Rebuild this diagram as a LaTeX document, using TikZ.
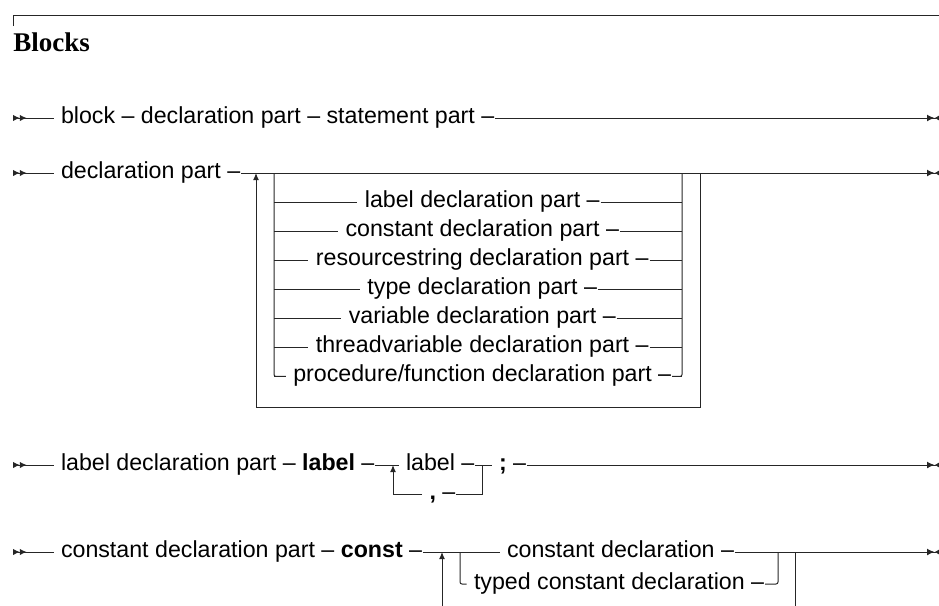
\documentclass[tikz,border=0pt]{standalone}
\usepackage{fontspec}
\setmainfont{Liberation Serif}
\setsansfont{Liberation Sans}
\usetikzlibrary{positioning,arrows.meta}

\begin{document}
\begin{tikzpicture}[
                x=0.5pt, y=-0.5pt,
                rail/.style={line width=0.5pt, draw=black!85},
                railstart/.style={rail, {Latex[reversed,length=3.4pt,width=3.2pt]Latex[reversed,length=3.4pt,width=3.2pt]}-},
                railend/.style={rail, -{Latex[length=3.8pt,width=3.4pt]Latex[reversed,length=2.2pt,width=2.6pt]}},
                railup/.style={rail, -{Latex[length=3.6pt,width=3pt]}},
                railtext/.style={font=\sffamily\fontsize{11.6}{14}\selectfont, anchor=west, inner xsep=0.3pt, inner ysep=0pt, text height=8.5pt, text depth=3.5pt, execute at begin node={\hspace{3.25pt}}},
                heading/.style={font=\rmfamily\bfseries\fontsize{13.5}{16}\selectfont, anchor=base west, inner sep=0pt}
                ]
                \useasboundingbox (0,0) rectangle (939,606);

                % title rule and heading
                \coordinate (ruleL) at (13,26);
                \coordinate (ruleR) at (939,15);
                \draw[rail] (ruleL) |- (ruleR);
                \node[heading] (head) at (13,51) {Blocks};

                % block
                \coordinate (s1) at (13,118);
                \coordinate (e1) at (939,118);
                \node[railtext] (blk) at (53.5,118) {block – declaration part – statement part –};
                \draw[railstart] (s1) -- (blk.west);
                \draw[railend] (blk.east) -- (e1);

                % declaration part
                \coordinate (s2) at (13,173);
                \coordinate (e2) at (939,173);
                \coordinate (back2) at (256,173);
                \coordinate (split2) at (274,173);
                \coordinate (join2) at (682,173);
                \coordinate (out2) at (700,173);
                \coordinate (bot2) at (256,407);
                \node[railtext] (decl) at (53.5,173) {declaration part –};
                \draw[railstart] (s2) -- (decl.west);
                \draw[railend] (decl.east) -- (e2);
                \foreach \txt [count=\i] in {label declaration part, constant declaration part, resourcestring declaration part, type declaration part, variable declaration part, threadvariable declaration part, procedure/function declaration part} {
                    \pgfmathsetmacro{\yy}{173+29.07*\i}
                    \node[railtext, anchor=center] (alt\i) at (479,\yy) {\txt\ –};
                    \draw[rail] (alt\i.west -| split2) -- (alt\i.west);
                    \draw[rail] (alt\i.east) -- (alt\i.east -| join2);
                }
                \draw[rail, rounded corners=1pt] (split2) |- (alt7.west);
                \draw[rail, rounded corners=1pt] (join2) |- (alt7.east);
                \draw[railup] (out2) |- (bot2) -- (back2);

                % label declaration part
                \coordinate (s3) at (13,465);
                \coordinate (e3) at (939,465);
                \coordinate (rep3) at (393,465);
                \coordinate (loop3) at (482,465);
                \node[railtext] (ldp) at (53.5,465) {label declaration part – \textbf{label} –};
                \node[railtext] (lbl) at (398.5,465) {label –};
                \node[railtext] (semi) at (491.5,465) {\textbf{;} –};
                \node[railtext] (comma) at (422,494) {\textbf{,} –};
                \draw[railstart] (s3) -- (ldp.west);
                \draw[rail] (ldp.east) -- (lbl.west);
                \draw[rail] (lbl.east) -- (semi.west);
                \draw[railend] (semi.east) -- (e3);
                \draw[rail] (loop3) |- (comma.east);
                \draw[railup] (comma.west) -| (rep3);

                % constant declaration part
                \coordinate (s4) at (13,552);
                \coordinate (e4) at (939,552);
                \coordinate (rep4) at (442,552);
                \coordinate (split4) at (460,552);
                \coordinate (join4) at (778,552);
                \coordinate (out4) at (795,552);
                \coordinate (bot4a) at (442,606);
                \coordinate (bot4b) at (795,606);
                \node[railtext] (cdp) at (53.5,552) {constant declaration part – \textbf{const} –};
                \node[railtext] (cdecl) at (499.5,552) {constant declaration –};
                \node[railtext] (tcdecl) at (466.5,584) {typed constant declaration –};
                \draw[railstart] (s4) -- (cdp.west);
                \draw[rail] (cdp.east) -- (cdecl.west);
                \draw[railend] (cdecl.east) -- (e4);
                \draw[rail, rounded corners=1pt] (split4) |- (tcdecl.west);
                \draw[rail, rounded corners=1pt] (tcdecl.east) -| (join4);
                \draw[railup] (bot4a) -- (rep4);
                \draw[rail] (out4) -- (bot4b);
            \end{tikzpicture}
\end{document}
